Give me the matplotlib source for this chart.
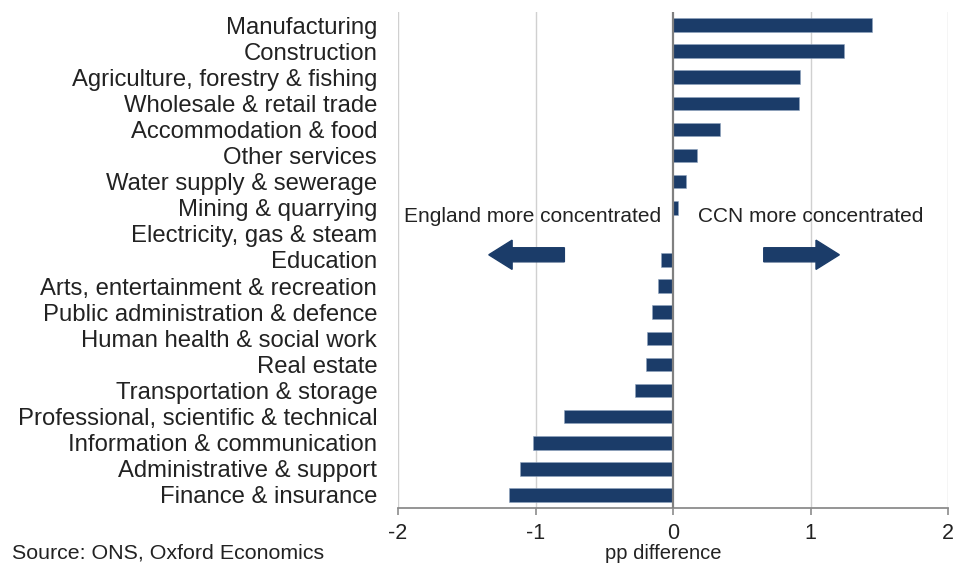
import matplotlib
matplotlib.use("Agg")
import matplotlib.pyplot as plt

categories = [
    "Manufacturing", "Construction", "Agriculture, forestry & fishing",
    "Wholesale & retail trade", "Accommodation & food", "Other services",
    "Water supply & sewerage", "Mining & quarrying", "Electricity, gas & steam",
    "Education", "Arts, entertainment & recreation",
    "Public administration & defence", "Human health & social work",
    "Real estate", "Transportation & storage",
    "Professional, scientific & technical", "Information & communication",
    "Administrative & support", "Finance & insurance",
]
values = [1.45, 1.24, 0.92, 0.915, 0.34, 0.177, 0.092, 0.036, 0.0,
          -0.085, -0.11, -0.15, -0.19, -0.195, -0.28, -0.79, -1.02, -1.11, -1.19]
xticks = [-2, -1, 0, 1, 2]

plt.rcParams['font.family'] = ['Liberation Sans', 'DejaVu Sans']
BAR = '#1b3c69'
TXT = '#222222'

fig = plt.figure(figsize=(9.57, 5.64), dpi=100)
ax = fig.add_axes([398/957, (564-508)/564, 550/957, 496/564])

ypos = list(range(len(categories)))
ax.barh(ypos, values, height=0.52, color=BAR, edgecolor='#8fa3bf', linewidth=0.4, zorder=3)
ax.set_ylim(len(categories) - 0.5, -0.5)
ax.set_xlim(-2, 2)
ax.set_yticks(ypos)
ax.set_yticklabels(categories, fontsize=17.2, color=TXT)
ax.tick_params(axis='y', length=0, pad=15)
ax.set_xticks(xticks)
ax.set_xticklabels([str(t) for t in xticks], fontsize=15.5, color=TXT)
ax.tick_params(axis='x', direction='out', length=5, width=1.2, color='#8c8c8c', pad=6)

for s in ['top', 'right', 'left']:
    ax.spines[s].set_visible(False)
ax.spines['bottom'].set_color('#8c8c8c')
ax.spines['bottom'].set_linewidth(1.3)

for t in xticks:
    if t == 0:
        ax.axvline(t, color='#808080', lw=1.6, zorder=4)
    else:
        ax.axvline(t, color='#d0d0d0', lw=1.0, zorder=1)

# annotation arrows
ay = 8.8
ax.arrow(-0.79, ay, -0.38, 0, width=0.54, head_width=1.12, head_length=0.17,
         length_includes_head=False, color=BAR, zorder=5)
ax.arrow(0.66, ay, 0.38, 0, width=0.54, head_width=1.12, head_length=0.17,
         length_includes_head=False, color=BAR, zorder=5)
ax.text(-1.025, 7.33, "England more concentrated", ha='center', va='center',
        fontsize=15, color=TXT, zorder=6)
ax.text(1.0, 7.33, "CCN more concentrated", ha='center', va='center',
        fontsize=15, color=TXT, zorder=6)

fig.text(663/957, 1/564, "pp difference", ha='center', va='bottom',
         fontsize=14.5, color=TXT)
fig.text(12/957, (564-553)/564, "Source: ONS, Oxford Economics", ha='left',
         va='center', fontsize=15.4, color=TXT)

fig.savefig("out.png", dpi=100)
